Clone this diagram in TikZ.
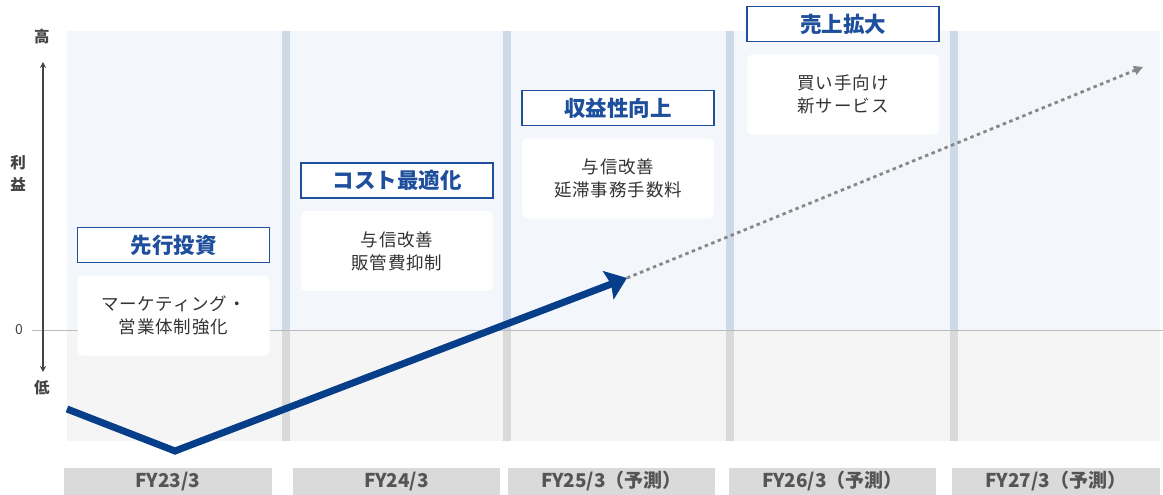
\documentclass[tikz,border=0pt]{standalone}
\usepackage{fontspec}
\setmainfont{Noto Sans CJK JP}
\newfontfamily\jp{Noto Sans CJK JP}
\newfontfamily\jpls[LetterSpace=5]{Noto Sans CJK JP}
\usetikzlibrary{arrows.meta,positioning}
\definecolor{bgup}{HTML}{F3F6FA}
\definecolor{bglow}{HTML}{F5F5F5}
\definecolor{divup}{HTML}{CDD9E7}
\definecolor{divlow}{HTML}{D9D9D9}
\definecolor{zeroline}{HTML}{BBBBBB}
\definecolor{navy}{HTML}{063E8A}
\definecolor{titleblue}{HTML}{1E4F9C}
\definecolor{txt}{HTML}{333333}
\definecolor{axisc}{HTML}{444444}
\definecolor{fytxt}{HTML}{555555}
\definecolor{dotc}{HTML}{888888}
\definecolor{fybox}{HTML}{DADADA}
\tikzset{
  titlebox/.style={draw=titleblue, line width=1.6pt, fill=white, minimum width=192pt, minimum height=35pt, inner sep=0pt, text=titleblue, font=\jp\bfseries\fontsize{21.5}{21.5}\selectfont},
  contentbox/.style={fill=white, rounded corners=5pt, minimum width=192pt, minimum height=80pt, inner sep=0pt, align=center, text=txt, font=\jpls\fontsize{17.5}{23}\selectfont},
  fylabel/.style={fill=fybox, minimum height=28pt, inner sep=0pt, text=fytxt, font=\jp\bfseries\fontsize{19}{19}\selectfont},
  axislabel/.style={text=axisc, inner sep=0pt, font=\jp\bfseries\fontsize{15.5}{15.5}\selectfont},
}
\begin{document}
\begin{tikzpicture}[x=1pt,y=-1pt]
\useasboundingbox (0,0) rectangle (1163,495);
% background
\fill[bgup] (67,31) rectangle (1160,330);
\fill[bglow] (67,330) rectangle (1160,441);
\foreach \dx in {286,507,730,954}{
  \fill[divup] (\dx-4,31) rectangle (\dx+4,330);
  \fill[divlow] (\dx-4,330) rectangle (\dx+4,441);
}
\coordinate (z0) at (32,330);
\coordinate (z1) at (1163,330);
\draw[zeroline, line width=0.8pt] (z0) -- (z1);
% axis
\coordinate (ax0) at (43,62);
\coordinate (ax1) at (43,372);
\draw[axisc, line width=1.1pt, {Stealth[length=6pt,width=6pt]}-{Stealth[length=6pt,width=6pt]}] (ax0) -- (ax1);
\node[axislabel] (hi) at (42,37) {高};
\node[axislabel] (lo) at (42,388) {低};
\node[axislabel] (r1) at (18,163) {利};
\node[axislabel] (r2) at (18,184) {益};
\node[axislabel, font=\jp\fontsize{14}{14}\selectfont] (zero) at (19,330) {0};
% title and content boxes
\node[titlebox] (t1) at (173.5,245) {先行投資};
\node[contentbox, below=12pt of t1] (c1) {マーケティング・\\営業体制強化};
\node[titlebox] (t2) at (397,180.5) {コスト最適化};
\node[contentbox, below=12pt of t2] (c2) {与信改善\\販管費抑制};
\node[titlebox] (t3) at (618,108) {収益性向上};
\node[contentbox, below=12pt of t3] (c3) {与信改善\\延滞事務手数料};
\node[titlebox] (t4) at (843,24) {売上拡大};
\node[contentbox, below=12pt of t4] (c4) {買い手向け\\新サービス};
% profit line
\coordinate (p0) at (67,409);
\coordinate (p1) at (175,451);
\coordinate (p2) at (627,278);
\coordinate (p3) at (1143,67);
\draw[dotc, line width=2.8pt, dash pattern=on 3.5pt off 3.5pt, -{Triangle[length=9pt,width=9pt]}] (p2) -- (p3);
\draw[navy, line width=7pt, line join=miter, -{Stealth[length=20pt,width=30pt,inset=3pt]}] (p0) -- (p1) -- (p2);
% fiscal year labels
\node[fylabel, minimum width=208pt] (fy1) at (168,481.5) {FY23/3};
\node[fylabel, minimum width=207pt] (fy2) at (396.5,481.5) {FY24/3};
\node[fylabel, minimum width=207pt] (fy3) at (611.5,481.5) {FY25/3（予測）};
\node[fylabel, minimum width=207pt] (fy4) at (832.5,481.5) {FY26/3（予測）};
\node[fylabel, minimum width=208pt] (fy5) at (1056,481.5) {FY27/3（予測）};
\end{tikzpicture}
\end{document}
